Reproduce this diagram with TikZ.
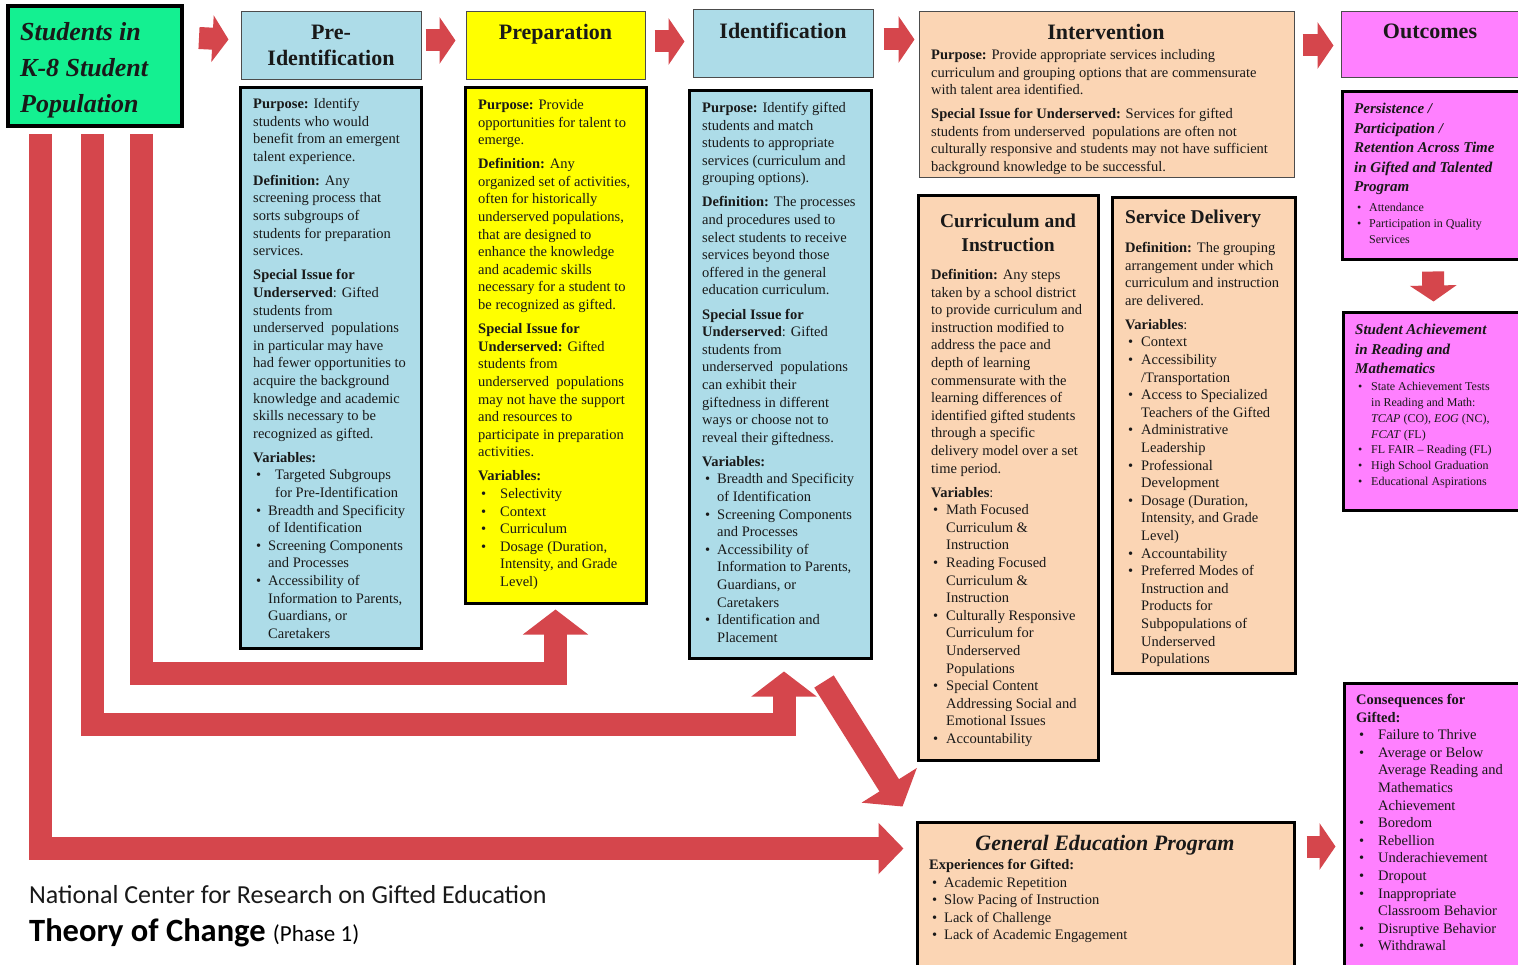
\documentclass[tikz,border=0pt]{standalone}
\usepackage{fontspec}
\setmainfont{Liberation Serif}
\newfontfamily\calib{Carlito}
\usetikzlibrary{arrows.meta,calc,fit}
\definecolor{cgreen}{RGB}{20,240,145}
\definecolor{cblue}{RGB}{173,220,232}
\definecolor{cyel}{RGB}{255,255,0}
\definecolor{cpeach}{RGB}{251,213,180}
\definecolor{cmag}{RGB}{255,128,255}
\definecolor{cred}{RGB}{213,70,76}
\definecolor{ctxt}{RGB}{25,25,25}
\newcommand{\mybul}[2]{\hspace*{#1}\makebox[#2][l]{\textbullet}}
\newcommand{\mycont}[1]{\hspace*{#1}}
\newcommand{\tbl}[1]{\begin{tabular}[t]{@{}l@{}}#1\end{tabular}}
\newcommand{\tbc}[1]{\begin{tabular}[t]{@{}c@{}}#1\end{tabular}}
\tikzset{
  thinbox/.style={draw=black!70, line width=1pt, inner sep=0pt},
  thickbox/.style={draw=black, line width=3pt, inner sep=0pt},
  body/.style={anchor=base west, inner sep=0pt, text=ctxt, font=\fontsize{14.5}{17.6}\selectfont},
  hdr/.style={anchor=base, inner sep=0pt, text=ctxt, font=\fontsize{22}{26}\selectfont\bfseries},
  subhdr/.style={anchor=base, inner sep=0pt, text=ctxt, font=\fontsize{19.5}{24}\selectfont\bfseries},
  smallarrow/.style={draw=cred, line width=22pt, -{Triangle[length=16pt,width=46pt]}},
  bigarrow/.style={draw=cred, line width=23pt, line join=miter, -{Triangle[length=25pt,width=64pt]}},
}
\begin{document}
\begin{tikzpicture}[x=1pt,y=-1pt]
\path[use as bounding box] (0,0) rectangle (1518,965);
\clip (0,0) rectangle (1518,965);
\fill[white] (0,0) rectangle (1518,965);

% ---------- boxes ----------
\node[fit={(8,6) (182,126)}, draw=black, line width=4pt, inner sep=0pt, fill=cgreen] (stu) {};
\node[fit={(241,12) (421,80)}, thinbox, fill=cblue] (pidh) {};
\node[fit={(466,12) (645,80)}, thinbox, fill=cyel] (preph) {};
\node[fit={(693,10) (873,78)}, thinbox, fill=cblue] (idh) {};
\node[fit={(919,12) (1294,178)}, thinbox, fill=cpeach] (intv) {};
\node[fit={(1341,12) (1524,78)}, thinbox, fill=cmag] (outh) {};

\node[fit={(240,88) (421,648)}, thickbox, fill=cblue] (pidb) {};
\node[fit={(465,88) (646,603)}, thickbox, fill=cyel] (prepb) {};
\node[fit={(689,91) (871,658)}, thickbox, fill=cblue] (idb) {};
\node[fit={(918,196) (1098,760)}, thickbox, fill=cpeach] (curr) {};
\node[fit={(1112,198) (1295,673)}, thickbox, fill=cpeach] (serv) {};
\node[fit={(1342,92) (1524,260)}, thickbox, fill=cmag] (pers) {};
\node[fit={(1343,313) (1524,510)}, thickbox, fill=cmag] (ach) {};
\node[fit={(1344,683) (1524,970)}, thickbox, fill=cmag] (cons) {};
\node[fit={(917,822) (1294,970)}, thickbox, fill=cpeach] (gened) {};

% ---------- headers ----------
\node[anchor=base west, inner sep=0pt, text=ctxt,
      font=\fontsize{26}{36}\selectfont\bfseries\itshape] (stut) at (20,41)
      {\tbl{Students in\\K-8 Student\\Population}};
\node[hdr] (pidht) at (331,40) {\tbc{Pre-\\Identification}};
\node[hdr] (prepht) at (555.5,40) {Preparation};
\node[hdr] (idht) at (783,39) {Identification};
\node[hdr] (intvt) at (1106,40) {Intervention};
\node[hdr] (outht) at (1430,39) {Outcomes};

% ---------- Pre-Identification ----------
\node[body] (pidt) at (253,108.5) {\tbl{\textbf{Purpose:} Identify\\
students who would\\
benefit from an emergent\\
talent experience.\\[6.5pt]
\textbf{Definition:} Any\\
screening process that\\
sorts subgroups of\\
students for preparation\\
services.\\[6.5pt]
\textbf{Special Issue for}\\
\textbf{Underserved}: Gifted\\
students from\\
underserved\ \ populations\\
in particular may have\\
had fewer opportunities to\\
acquire the background\\
knowledge and academic\\
skills necessary to be\\
recognized as gifted.\\[6.5pt]
\textbf{Variables:}\\
\mybul{3pt}{19pt}Targeted Subgroups\\
\mycont{22pt}for Pre-Identification\\
\mybul{3pt}{12pt}Breadth and Specificity\\
\mycont{15pt}of Identification\\
\mybul{3pt}{12pt}Screening Components\\
\mycont{15pt}and Processes\\
\mybul{3pt}{12pt}Accessibility of\\
\mycont{15pt}Information to Parents,\\
\mycont{15pt}Guardians, or\\
\mycont{15pt}Caretakers}};

% ---------- Preparation ----------
\node[body] (prept) at (478,109.5) {\tbl{\textbf{Purpose:} Provide\\
opportunities for talent to\\
emerge.\\[6.5pt]
\textbf{Definition:} Any\\
organized set of activities,\\
often for historically\\
underserved populations,\\
that are designed to\\
enhance the knowledge\\
and academic skills\\
necessary for a student to\\
be recognized as gifted.\\[6.5pt]
\textbf{Special Issue for}\\
\textbf{Underserved:} Gifted\\
students from\\
underserved\ \ populations\\
may not have the support\\
and resources to\\
participate in preparation\\
activities.\\[6.5pt]
\textbf{Variables:}\\
\mybul{3pt}{19pt}Selectivity\\
\mybul{3pt}{19pt}Context\\
\mybul{3pt}{19pt}Curriculum\\
\mybul{3pt}{19pt}Dosage (Duration,\\
\mycont{22pt}Intensity, and Grade\\
\mycont{22pt}Level)}};

% ---------- Identification ----------
\node[body] (idt) at (702,112.5) {\tbl{\textbf{Purpose:} Identify gifted\\
students and match\\
students to appropriate\\
services (curriculum and\\
grouping options).\\[6.5pt]
\textbf{Definition:} The processes\\
and procedures used to\\
select students to receive\\
services beyond those\\
offered in the general\\
education curriculum.\\[6.5pt]
\textbf{Special Issue for}\\
\textbf{Underserved}: Gifted\\
students from\\
underserved\ \ populations\\
can exhibit their\\
giftedness in different\\
ways or choose not to\\
reveal their giftedness.\\[6.5pt]
\textbf{Variables:}\\
\mybul{3pt}{12pt}Breadth and Specificity\\
\mycont{15pt}of Identification\\
\mybul{3pt}{12pt}Screening Components\\
\mycont{15pt}and Processes\\
\mybul{3pt}{12pt}Accessibility of\\
\mycont{15pt}Information to Parents,\\
\mycont{15pt}Guardians, or\\
\mycont{15pt}Caretakers\\
\mybul{3pt}{12pt}Identification and\\
\mycont{15pt}Placement}};

% ---------- Intervention ----------
\node[body] (intvb) at (931,59.5) {\tbl{\textbf{Purpose:} Provide appropriate services including\\
curriculum and grouping options that are commensurate\\
with talent area identified.\\[6.5pt]
\textbf{Special Issue for Underserved:} Services for gifted\\
students from underserved\ \ populations are often not\\
culturally responsive and students may not have sufficient\\
background knowledge to be successful.}};

% ---------- Curriculum and Instruction ----------
\node[subhdr] (currh) at (1008,228) {\tbc{Curriculum and\\Instruction}};
\node[body] (currt) at (931,279.5) {\tbl{\textbf{Definition:} Any steps\\
taken by a school district\\
to provide curriculum and\\
instruction modified to\\
address the pace and\\
depth of learning\\
commensurate with the\\
learning differences of\\
identified gifted students\\
through a specific\\
delivery model over a set\\
time period.\\[6.5pt]
\textbf{Variables}:\\
\mybul{2pt}{13pt}Math Focused\\
\mycont{15pt}Curriculum \&\\
\mycont{15pt}Instruction\\
\mybul{2pt}{13pt}Reading Focused\\
\mycont{15pt}Curriculum \&\\
\mycont{15pt}Instruction\\
\mybul{2pt}{13pt}Culturally Responsive\\
\mycont{15pt}Curriculum for\\
\mycont{15pt}Underserved\\
\mycont{15pt}Populations\\
\mybul{2pt}{13pt}Special Content\\
\mycont{15pt}Addressing Social and\\
\mycont{15pt}Emotional Issues\\
\mybul{2pt}{13pt}Accountability}};

% ---------- Service Delivery ----------
\node[subhdr, anchor=base west] (servh) at (1125,224) {Service Delivery};
\node[body] (servt) at (1125,252.5) {\tbl{\textbf{Definition:} The grouping\\
arrangement under which\\
curriculum and instruction\\
are delivered.\\[6.5pt]
\textbf{Variables}:\\
\mybul{3pt}{13pt}Context\\
\mybul{3pt}{13pt}Accessibility\\
\mycont{16pt}/Transportation\\
\mybul{3pt}{13pt}Access to Specialized\\
\mycont{16pt}Teachers of the Gifted\\
\mybul{3pt}{13pt}Administrative\\
\mycont{16pt}Leadership\\
\mybul{3pt}{13pt}Professional\\
\mycont{16pt}Development\\
\mybul{3pt}{13pt}Dosage (Duration,\\
\mycont{16pt}Intensity, and Grade\\
\mycont{16pt}Level)\\
\mybul{3pt}{13pt}Accountability\\
\mybul{3pt}{13pt}Preferred Modes of\\
\mycont{16pt}Instruction and\\
\mycont{16pt}Products for\\
\mycont{16pt}Subpopulations of\\
\mycont{16pt}Underserved\\
\mycont{16pt}Populations}};

% ---------- Outcomes ----------
\node[body, font=\fontsize{15}{19.5}\selectfont\bfseries\itshape] (perst) at (1354,114)
{\tbl{Persistence /\\Participation /\\Retention Across Time\\in Gifted and Talented\\Program}};
\node[body, font=\fontsize{12}{16}\selectfont] (persb) at (1354,212)
{\tbl{\mybul{3pt}{12pt}Attendance\\
\mybul{3pt}{12pt}Participation in Quality\\
\mycont{15pt}Services}};
\node[body, font=\fontsize{15}{19.5}\selectfont\bfseries\itshape] (acht) at (1355,335)
{\tbl{Student Achievement\\in Reading and\\Mathematics}};
\node[body, font=\fontsize{12}{15.7}\selectfont] (achb) at (1355,391)
{\tbl{\mybul{3pt}{13pt}State Achievement Tests\\
\mycont{16pt}in Reading and Math:\\
\mycont{16pt}\textit{TCAP} (CO), \textit{EOG} (NC),\\
\mycont{16pt}\textit{FCAT} (FL)\\
\mybul{3pt}{13pt}FL FAIR -- Reading (FL)\\
\mybul{3pt}{13pt}High School Graduation\\
\mybul{3pt}{13pt}Educational Aspirations}};

\node[body] (const) at (1356,704.5) {\tbl{\textbf{Consequences for}\\
\textbf{Gifted:}\\
\mybul{3pt}{19pt}Failure to Thrive\\
\mybul{3pt}{19pt}Average or Below\\
\mycont{22pt}Average Reading and\\
\mycont{22pt}Mathematics\\
\mycont{22pt}Achievement\\
\mybul{3pt}{19pt}Boredom\\
\mybul{3pt}{19pt}Rebellion\\
\mybul{3pt}{19pt}Underachievement\\
\mybul{3pt}{19pt}Dropout\\
\mybul{3pt}{19pt}Inappropriate\\
\mycont{22pt}Classroom Behavior\\
\mybul{3pt}{19pt}Disruptive Behavior\\
\mybul{3pt}{19pt}Withdrawal}};

% ---------- General Education ----------
\node[hdr, font=\fontsize{22}{26}\selectfont\bfseries\itshape] (genh) at (1105,850) {General Education Program};
\node[body] (gent) at (929,869.5) {\tbl{\textbf{Experiences for Gifted:}\\
\mybul{3pt}{12pt}Academic Repetition\\
\mybul{3pt}{12pt}Slow Pacing of Instruction\\
\mybul{3pt}{12pt}Lack of Challenge\\
\mybul{3pt}{12pt}Lack of Academic Engagement}};

% ---------- caption ----------
\node[anchor=base west, inner sep=0pt, text=ctxt, font=\calib\fontsize{26}{30}\selectfont] (cap1) at (29,903)
{National Center for Research on Gifted Education};
\node[anchor=base west, inner sep=0pt, text=black, font=\calib\fontsize{32.5}{36}\selectfont\bfseries] (cap2) at (29,941)
{Theory of Change \mdseries\fontsize{23}{27}\selectfont(Phase 1)};

% ---------- small arrows ----------
\draw[smallarrow] ($(stu.north east)+(15,34)$) -- ($(pidh.north west)+(-12,28)$);
\draw[smallarrow] ($(pidh.north east)+(4,29)$) -- ($(preph.north west)+(-10,29)$);
\draw[smallarrow] ($(preph.north east)+(9,30)$) -- ($(idh.north west)+(-8,32)$);
\draw[smallarrow] ($(idh.north east)+(10,30)$) -- ($(intv.north west)+(-4,28)$);
\draw[smallarrow] ($(intv.north east)+(8,34)$) -- ($(outh.north west)+(-7,34)$);
\draw[smallarrow] ($(pers.south)+(0,10)$) -- ($(ach.north)+(0,-10)$);
\draw[smallarrow] ($(gened.north east)+(11,26)$) -- ($(cons.north west)+(-7,165)$);

% ---------- big connectors ----------
\draw[draw=cred, line width=23pt, line join=miter, -{Triangle[length=25pt,width=50pt]}, shorten >=12pt]
  ($(stu.south west)+(34,6)$) |- ($(gened.north west)+(0,28)$);
\draw[bigarrow, shorten >=12pt] ($(stu.south west)+(86,6)$) |- ($(idb.south)+(4,65)$) -- ($(idb.south)+(4,0)$);
\draw[bigarrow, shorten >=5pt] ($(stu.south west)+(135,6)$) |- ($(prepb.south)+(0,69)$) -- (prepb.south);
\draw[bigarrow] ($(idb.south)+(44,22)$) -- ($(gened.north west)+(-13,-14)$);
\end{tikzpicture}
\end{document}
